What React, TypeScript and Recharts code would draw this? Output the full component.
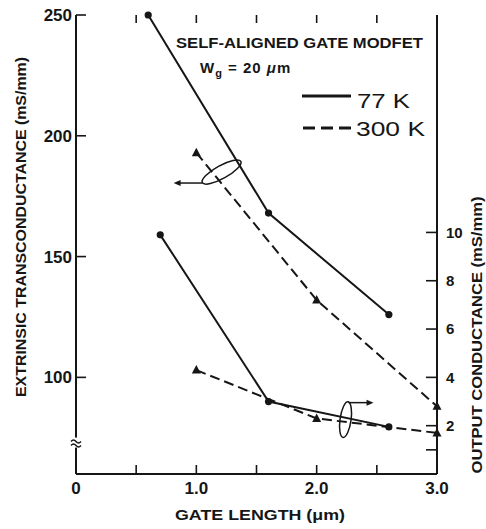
import React from 'react'
import {
  ComposedChart,
  Line,
  XAxis,
  YAxis,
  ReferenceDot,
  Customized,
} from 'recharts'

// gate length (um)
const xTicks = [0, 0.5, 1, 1.5, 2, 2.5, 3]
const xTickLabels = ['0', '', '1.0', '', '2.0', '', '3.0']
const gmTicks = [100, 150, 200, 250]
const gdTicks = [1, 2, 4, 6, 8, 10]
const gdTickLabels = ['', '2', '4', '6', '8', '10']

// extrinsic transconductance (mS/mm), left axis
const gm77 = [
  { x: 0.6, y: 250 },
  { x: 1.6, y: 168 },
  { x: 2.6, y: 126 },
]
const gm300 = [
  { x: 1.0, y: 193 },
  { x: 2.0, y: 132 },
  { x: 3.0, y: 88 },
]
// output conductance (mS/mm), right axis
const gd77 = [
  { x: 0.7, y: 9.9 },
  { x: 1.6, y: 3.0 },
  { x: 2.6, y: 1.95 },
]
const gd300 = [
  { x: 1.0, y: 4.3 },
  { x: 2.0, y: 2.3 },
  { x: 3.0, y: 1.7 },
]

const X_DOMAIN: [number, number] = [0, 3]
const GM_DOMAIN: [number, number] = [60, 250]
const GD_DOMAIN: [number, number] = [0, 19]

const FONT = '"Liberation Sans", Arial, sans-serif'
const INK = '#161616'
const DASH = '10 5'

const W = 486
const H = 529

const axisLineStyle = { stroke: INK, strokeWidth: 2 }

function BottomLabel(props: any) {
  const { x, y, payload } = props
  const label = xTickLabels[xTicks.indexOf(payload.value)]
  if (!label) return <g />
  return (
    <text x={x} y={y} dy="0.71em" textAnchor="middle" fontFamily={FONT} fontWeight={700} fontSize={17} fill={INK}>
      {label}
    </text>
  )
}

function LeftLabel(props: any) {
  const { x, y, payload } = props
  return (
    <text x={x} y={y} dy="0.36em" textAnchor="end" fontFamily={FONT} fontWeight={700} fontSize={17} fill={INK}>
      {payload.value}
    </text>
  )
}

function RightLabel(props: any) {
  const { x, y, payload } = props
  const label = gdTickLabels[gdTicks.indexOf(payload.value)]
  if (!label) return <g />
  return (
    <text x={x} y={y} dy="0.36em" textAnchor="start" fontFamily={FONT} fontWeight={700} fontSize={15} fill={INK}>
      {label}
    </text>
  )
}

function NoLabel() {
  return <g />
}

// inward tick marks, drawn from the axis point into the plot
function tickMark(dx: number, dy: number) {
  return (props: any) => {
    const { cx, cy } = props
    return <path d={`M${cx},${cy} l${dx},${dy}`} stroke={INK} strokeWidth={1.6} fill="none" />
  }
}
const upTick = tickMark(0, -9)
const downTick = tickMark(0, 8)
const rightTick = tickMark(10, 0)
const leftTick = tickMark(-11, 0)

function circleDot(props: any) {
  const { cx, cy, index } = props
  return <circle key={`c${index}`} cx={cx} cy={cy} r={3.6} fill={INK} />
}

function triDot(props: any) {
  const { cx, cy, index } = props
  return (
    <polygon
      key={`t${index}`}
      points={`${cx},${cy - 5} ${cx - 4.5},${cy + 3.5} ${cx + 4.5},${cy + 3.5}`}
      fill={INK}
    />
  )
}

// ellipse + arrow marking the curves that belong to the left axis
function LeftMarker(props: any) {
  const { cx, cy } = props
  return (
    <g>
      <ellipse cx={cx} cy={cy} rx={22} ry={6.5} fill="none" stroke={INK} strokeWidth={1.5} transform={`rotate(-29 ${cx} ${cy})`} />
      <line x1={cx - 19} y1={cy + 11} x2={cx - 42} y2={cy + 11} stroke={INK} strokeWidth={1.5} />
      <polygon points={`${cx - 48},${cy + 11} ${cx - 41},${cy + 8} ${cx - 41},${cy + 14}`} fill={INK} />
    </g>
  )
}

// ellipse + arrow marking the curves that belong to the right axis
function RightMarker(props: any) {
  const { cx, cy } = props
  return (
    <g>
      <ellipse cx={cx} cy={cy} rx={5.5} ry={18} fill="none" stroke={INK} strokeWidth={1.5} transform={`rotate(8 ${cx} ${cy})`} />
      <line x1={cx + 3} y1={cy - 17} x2={cx + 22} y2={cy - 17} stroke={INK} strokeWidth={1.5} />
      <polygon points={`${cx + 28},${cy - 17} ${cx + 21},${cy - 20} ${cx + 21},${cy - 14}`} fill={INK} />
    </g>
  )
}

function AxisBreak(props: any) {
  const { cx, cy } = props
  return (
    <g>
      <rect x={cx - 6} y={cy - 5} width={12} height={10} fill="#fff" />
      <path d={`M${cx - 5},${cy - 1} q2.5,-3 5,0 t5,0`} fill="none" stroke={INK} strokeWidth={1.5} />
      <path d={`M${cx - 5},${cy + 3} q2.5,-3 5,0 t5,0`} fill="none" stroke={INK} strokeWidth={1.5} />
    </g>
  )
}

function Overlay() {
  return (
    <g fontFamily={FONT} fill={INK}>
      <text x={176} y={48} fontSize={14} fontWeight={700} textLength={247} lengthAdjust="spacingAndGlyphs">
        SELF-ALIGNED GATE MODFET
      </text>
      <text x={200} y={73} fontSize={15} fontWeight={700} letterSpacing={1}>
        W<tspan fontSize={11} dy={4}>g</tspan>
        <tspan dy={-4}> = 20 </tspan>
        <tspan fontStyle="italic">μ</tspan>m
      </text>

      <line x1={302} x2={351} y1={96} y2={96} stroke={INK} strokeWidth={3} />
      <text x={357} y={108} fontSize={21} textLength={53} lengthAdjust="spacingAndGlyphs">
        77 K
      </text>
      <line x1={303} x2={351} y1={128} y2={128} stroke={INK} strokeWidth={3} strokeDasharray="12 6" />
      <text x={356} y={136} fontSize={21} textLength={69} lengthAdjust="spacingAndGlyphs">
        300 K
      </text>

      <text
        transform="translate(21,227) rotate(-90)"
        textAnchor="middle"
        dominantBaseline="central"
        fontSize={14}
        fontWeight={700}
        textLength={340}
        lengthAdjust="spacingAndGlyphs"
      >
        EXTRINSIC TRANSCONDUCTANCE (mS/mm)
      </text>
      <text
        transform="translate(477,335) rotate(-90)"
        textAnchor="middle"
        dominantBaseline="central"
        fontSize={14}
        fontWeight={700}
        textLength={277}
        lengthAdjust="spacingAndGlyphs"
      >
        OUTPUT CONDUCTANCE (mS/mm)
      </text>
      <text
        x={260}
        y={515}
        textAnchor="middle"
        dominantBaseline="central"
        fontSize={14}
        fontWeight={700}
        textLength={170}
        lengthAdjust="spacingAndGlyphs"
      >
        GATE LENGTH (μm)
      </text>
    </g>
  )
}

export default function App() {
  return (
    <div style={{ position: 'absolute', left: 0, top: 0, width: W, height: H, background: '#fff' }}>
      <ComposedChart width={W} height={H} margin={{ top: 15, right: 0, bottom: 0, left: 16 }}>
        <XAxis
          dataKey="x"
          type="number"
          domain={X_DOMAIN}
          ticks={xTicks}
          interval={0}
          height={55}
          tickSize={0}
          tickMargin={8}
          tickLine={false}
          tick={<BottomLabel />}
          axisLine={axisLineStyle}
        />
        <XAxis
          xAxisId="top"
          orientation="top"
          dataKey="x"
          type="number"
          domain={X_DOMAIN}
          ticks={xTicks}
          interval={0}
          height={0}
          tickSize={0}
          tickLine={false}
          tick={<NoLabel />}
          axisLine={axisLineStyle}
        />
        <YAxis
          yAxisId="gm"
          orientation="left"
          type="number"
          domain={GM_DOMAIN}
          ticks={gmTicks}
          interval={0}
          width={60}
          tickSize={0}
          tickMargin={4}
          tickLine={false}
          tick={<LeftLabel />}
          axisLine={axisLineStyle}
        />
        <YAxis
          yAxisId="gd"
          orientation="right"
          type="number"
          domain={GD_DOMAIN}
          ticks={gdTicks}
          interval={0}
          width={49}
          tickSize={0}
          tickMargin={9}
          tickLine={false}
          tick={<RightLabel />}
          axisLine={axisLineStyle}
        />

        {/* inward tick marks on all four sides */}
        {xTicks.map((t) => (
          <ReferenceDot key={`xb${t}`} yAxisId="gm" x={t} y={GM_DOMAIN[0]} ifOverflow="visible" shape={upTick} />
        ))}
        {xTicks.map((t) => (
          <ReferenceDot key={`xt${t}`} yAxisId="gm" x={t} y={GM_DOMAIN[1]} ifOverflow="visible" shape={downTick} />
        ))}
        {gmTicks.map((v) => (
          <ReferenceDot key={`gm${v}`} yAxisId="gm" x={X_DOMAIN[0]} y={v} ifOverflow="visible" shape={rightTick} />
        ))}
        {gdTicks.map((v) => (
          <ReferenceDot key={`gd${v}`} yAxisId="gd" x={X_DOMAIN[1]} y={v} ifOverflow="visible" shape={leftTick} />
        ))}

        <Line yAxisId="gm" data={gm77} dataKey="y" type="linear" stroke={INK} strokeWidth={2} dot={circleDot} activeDot={false} isAnimationActive={false} />
        <Line yAxisId="gm" data={gm300} dataKey="y" type="linear" stroke={INK} strokeWidth={2} strokeDasharray={DASH} dot={triDot} activeDot={false} isAnimationActive={false} />
        <Line yAxisId="gd" data={gd77} dataKey="y" type="linear" stroke={INK} strokeWidth={2} dot={circleDot} activeDot={false} isAnimationActive={false} />
        <Line yAxisId="gd" data={gd300} dataKey="y" type="linear" stroke={INK} strokeWidth={2} strokeDasharray={DASH} dot={triDot} activeDot={false} isAnimationActive={false} />

        <ReferenceDot yAxisId="gm" x={1.21} y={185} ifOverflow="visible" shape={LeftMarker} />
        <ReferenceDot yAxisId="gd" x={2.24} y={2.25} ifOverflow="visible" shape={RightMarker} />
        <ReferenceDot yAxisId="gm" x={0} y={73} ifOverflow="visible" shape={AxisBreak} />

        <Customized component={<Overlay />} />
      </ComposedChart>
    </div>
  )
}
